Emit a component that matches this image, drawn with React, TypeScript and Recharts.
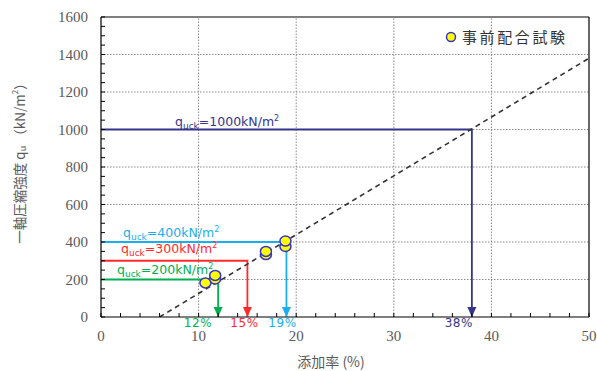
import React from 'react';
import {
  ComposedChart,
  XAxis,
  YAxis,
  Line,
  Scatter,
  ReferenceLine,
  ReferenceDot,
  Legend,
} from 'recharts';

// Trial mix results: additive rate (%) vs. unconfined compressive strength (kN/m²)
const mixRate = [10.7, 11.7, 11.7, 16.9, 16.9, 18.9, 18.9];
const mixStrength = [182, 203, 222, 333, 350, 376, 405];

// Regression line through the trial results
const trendRate = [6, 50];
const trendStrength = [0, 1380];

// Design strengths and the additive rate required for each
const designStrength = [200, 300, 400, 1000];
const requiredRate = [12, 15, 19, 38];
const designColors = ['#00B050', '#FF2A2A', '#1AAEEE', '#35358C'];

const xMajorTicks = [0, 10, 20, 30, 40, 50];
const yMajorTicks = [0, 200, 400, 600, 800, 1000, 1200, 1400, 1600];
const xAllTicks = Array.from({ length: 26 }, (_, i) => i * 2);
const yAllTicks = Array.from({ length: 33 }, (_, i) => i * 50);

const gridX = [10, 20, 30, 40];
const gridY = [200, 400, 600, 800, 1000, 1200, 1400];

const trialData = mixRate.map((x, i) => ({ x, y: mixStrength[i] }));
const trendData = trendRate.map((x, i) => ({ x, y: trendStrength[i] }));
const designData = designStrength.map((v, i) => [
  { x: 0, y: v },
  { x: requiredRate[i], y: v },
  { x: requiredRate[i], y: 0 },
]);

// label placement (pixel offsets from the start of each design line / arrow tip)
const designLabelOffset = [
  { dx: 16, dy: -6 },
  { dx: 20, dy: -8 },
  { dx: 22, dy: -5 },
  { dx: 74, dy: -4 },
];
const percentLabelDx = [-20, -3, -4, -13];

const tickFont = '"Liberation Serif", "DejaVu Serif", serif';
const sansFont = '"DejaVu Sans", sans-serif';
const cjkFont = '"Noto Sans CJK JP", sans-serif';
const tickColor = '#5a5a5a';

const XTick = (props: any) => {
  const { x, y, payload } = props;
  const v = payload.value;
  const major = xMajorTicks.includes(v);
  return (
    <g>
      <line x1={x} x2={x} y1={y} y2={y - 4} stroke="#000" strokeWidth={1} />
      {major && (
        <text x={x} y={y + 24} textAnchor="middle" style={{ fontFamily: tickFont, fontSize: 15 }} fill={tickColor}>
          {v}
        </text>
      )}
    </g>
  );
};

const YTick = (props: any) => {
  const { x, y, payload } = props;
  const v = payload.value;
  const major = yMajorTicks.includes(v);
  return (
    <g>
      <line x1={x} x2={x + 4} y1={y} y2={y} stroke="#000" strokeWidth={1} />
      {major && (
        <text x={x - 13} y={y + 5} textAnchor="end" style={{ fontFamily: tickFont, fontSize: 15 }} fill={tickColor}>
          {v}
        </text>
      )}
    </g>
  );
};

const arrowDot = (color: string) => (p: any) => {
  const { cx, cy, index } = p;
  if (index !== 2) return <g key={`d-${index}`} />;
  return (
    <polygon
      key={`d-${index}`}
      points={`${cx},${cy} ${cx - 4.5},${cy - 10} ${cx + 4.5},${cy - 10}`}
      fill={color}
    />
  );
};

const designLabel = (i: number) => (p: any) => {
  const { cx, cy } = p;
  const off = designLabelOffset[i];
  return (
    <text x={cx + off.dx} y={cy + off.dy} fontFamily={sansFont} fontSize={12.5} fill={designColors[i]}>
      q
      <tspan fontSize={9} dy={3}>uck</tspan>
      <tspan dy={-3}>={designStrength[i]}kN/m</tspan>
      <tspan fontSize={8} dy={-5}>2</tspan>
    </text>
  );
};

const percentLabel = (i: number) => (p: any) => {
  const { cx, cy } = p;
  return (
    <text
      x={cx + percentLabelDx[i]}
      y={cy + 10}
      textAnchor="middle"
      fontFamily={sansFont}
      fontSize={12}
      letterSpacing={0.6}
      fill={designColors[i]}
    >
      {requiredRate[i]}%
    </text>
  );
};

const LegendContent = (props: any) => {
  const item = props.payload && props.payload.find((e: any) => e.value === '事前配合試験');
  const name = item ? item.value : '事前配合試験';
  return (
    <svg width={150} height={22} style={{ display: 'block' }}>
      <circle cx={7} cy={11} r={4.5} fill="#FFFF00" stroke="#3434C8" strokeWidth={1.5} />
      <text x={18} y={16.5} fontFamily={cjkFont} fontSize={15} letterSpacing={2.6} fill="#333">
        {name}
      </text>
    </svg>
  );
};

export default function App() {
  return (
    <div style={{ position: 'absolute', left: 0, top: 0, background: '#fff' }}>
      <ComposedChart
        width={597}
        height={371}
        margin={{ top: 17, right: 8, bottom: 4, left: 41 }}
      >
        <XAxis
          type="number"
          dataKey="x"
          domain={[0, 50]}
          ticks={xAllTicks}
          interval={0}
          allowDataOverflow
          tickLine={false}
          tickSize={0}
          tickMargin={0}
          height={50}
          axisLine={{ stroke: '#000', strokeWidth: 1.2 }}
          tick={<XTick />}
          label={{
            content: (p: any) => {
              const vb = p.viewBox;
              return (
                <text x={vb.x + 230} y={vb.y + 50} textAnchor="middle" fontFamily={cjkFont} fontSize={14} fill={tickColor}>
                  添加率 (%)
                </text>
              );
            },
          }}
        />
        <YAxis
          type="number"
          dataKey="y"
          domain={[0, 1600]}
          ticks={yAllTicks}
          interval={0}
          allowDataOverflow
          tickLine={false}
          tickSize={0}
          tickMargin={0}
          width={60}
          axisLine={{ stroke: '#000', strokeWidth: 1.2 }}
          tick={<YTick />}
          label={{
            content: (p: any) => {
              const vb = p.viewBox;
              const cx = vb.x - 20;
              const cy = vb.y + 143;
              return (
                <text
                  x={cx}
                  y={cy}
                  transform={`rotate(-90 ${cx} ${cy})`}
                  textAnchor="middle"
                  dominantBaseline="middle"
                  fontFamily={cjkFont}
                  fontSize={13.5}
                  fill={tickColor}
                >
                  一軸圧縮強度 q
                  <tspan fontSize={9} dy={3}>u</tspan>
                  <tspan dy={-3}> （kN/m</tspan>
                  <tspan fontSize={8} dy={-5}>2</tspan>
                  <tspan dy={5}>）</tspan>
                </text>
              );
            },
          }}
        />

        {gridX.map((v) => (
          <ReferenceLine key={`gx-${v}`} x={v} stroke="#8a8a8a" strokeDasharray="1.5 1.5" strokeWidth={1} />
        ))}
        {gridY.map((v) => (
          <ReferenceLine key={`gy-${v}`} y={v} stroke="#8a8a8a" strokeDasharray="1.5 1.5" strokeWidth={1} />
        ))}
        <ReferenceLine x={50} stroke="#000" strokeWidth={1.2} />
        <ReferenceLine y={1600} stroke="#000" strokeWidth={1.2} />

        {designData.map((d, i) => (
          <Line
            key={`design-${i}`}
            data={d}
            dataKey="y"
            type="linear"
            stroke={designColors[i]}
            strokeWidth={1.8}
            dot={arrowDot(designColors[i])}
            activeDot={false}
            legendType="none"
            isAnimationActive={false}
          />
        ))}

        <Line
          data={trendData}
          dataKey="y"
          type="linear"
          stroke="#333"
          strokeWidth={1.6}
          strokeDasharray="5 4"
          dot={false}
          activeDot={false}
          legendType="none"
          isAnimationActive={false}
        />

        <Scatter
          name="事前配合試験"
          data={trialData}
          dataKey="y"
          fill="#FFFF00"
          isAnimationActive={false}
          shape={(p: any) => (
            <ellipse cx={p.cx} cy={p.cy} rx={5.5} ry={5} fill="#FFFF00" stroke="#3434C8" strokeWidth={1.5} />
          )}
        />

        {designStrength.map((v, i) => (
          <ReferenceDot key={`lbl-${i}`} x={0} y={v} r={0} ifOverflow="visible" shape={designLabel(i)} />
        ))}
        {requiredRate.map((r, i) => (
          <ReferenceDot key={`pct-${i}`} x={r} y={0} r={0} ifOverflow="visible" shape={percentLabel(i)} />
        ))}

        <Legend
          layout="horizontal"
          verticalAlign="middle"
          align="center"
          wrapperStyle={{ top: 26, left: 444, width: 150 }}
          content={<LegendContent />}
        />
      </ComposedChart>
    </div>
  );
}
